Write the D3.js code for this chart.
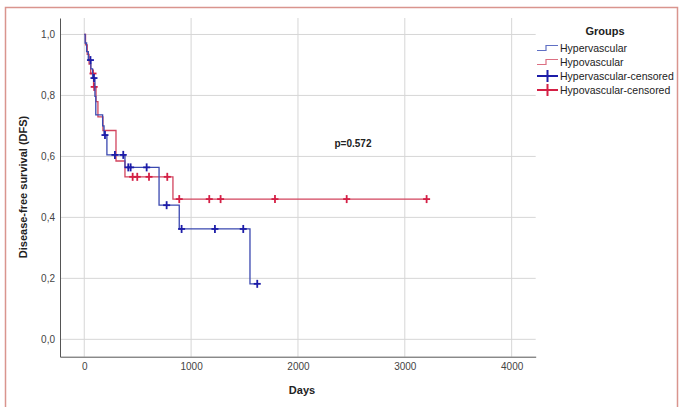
<!DOCTYPE html>
<html>
<head>
<meta charset="utf-8">
<script src="https://cdn.jsdelivr.net/npm/d3@7"></script>
<style>
  html, body { margin: 0; padding: 0; background: #fff; }
  svg { display: block; font-family: "Liberation Sans", Arial, sans-serif; }
</style>
</head>
<body>
<div id="chart"></div>
<script>
  // Kaplan-Meier step data (days, survival)
  const hyperTimes = [0, 8, 22, 38, 62, 78, 100, 108, 172, 185, 212, 381, 700, 889, 1551];
  const hyperSurv = [1.0, 0.972, 0.944, 0.916, 0.887, 0.857, 0.797, 0.736, 0.7, 0.67, 0.605, 0.564, 0.44, 0.362, 0.182];
  const hyperCensored = [58, 91, 194, 287, 365, 412, 434, 584, 771, 911, 1223, 1488, 1619];

  const hypoTimes = [0, 12, 28, 45, 60, 87, 110, 128, 175, 297, 381, 830];
  const hypoSurv = [1.0, 0.966, 0.935, 0.903, 0.872, 0.828, 0.78, 0.73, 0.685, 0.585, 0.533, 0.46];
  const hypoCensored = [82, 93, 453, 496, 606, 777, 889, 1170, 1276, 1785, 2456, 3204];

  const xTicks = [0, 1000, 2000, 3000, 4000];
  const yTicks = [0, 0.2, 0.4, 0.6, 0.8, 1.0];
  const groupNames = ["Hypervascular", "Hypovascular", "Hypervascular-censored", "Hypovascular-censored"];
  const pLabel = "p=0.572";

  const W = 679, H = 407;
  const blueLine = "#3a48b0", redLine = "#d2445e";
  const blueMark = "#1c1ca8", redMark = "#d41f45";

  const x = d3.scaleLinear().domain([-227, 4225]).range([60, 535.7]);
  const y = d3.scaleLinear().domain([-0.057, 1.054]).range([356.7, 18]);

  const svg = d3.select("#chart").append("svg").attr("width", W).attr("height", H);

  // outer frame
  svg.append("path")
    .attr("d", `M5.5,${H + 2} V7.5 H677.5 V${H + 2}`)
    .attr("fill", "none").attr("stroke", "#d9958e").attr("stroke-width", 1.5);

  // gridlines
  svg.append("g").selectAll("line.vg").data(xTicks).join("line")
    .attr("x1", d => x(d)).attr("x2", d => x(d))
    .attr("y1", y.range()[1]).attr("y2", y.range()[0])
    .attr("stroke", "#d6d6d6");
  svg.append("g").selectAll("line.hg").data(yTicks).join("line")
    .attr("y1", d => y(d)).attr("y2", d => y(d))
    .attr("x1", x.range()[0]).attr("x2", x.range()[1])
    .attr("stroke", "#d6d6d6");

  // axes
  const xAxis = svg.append("g")
    .attr("transform", `translate(0,${y.range()[0]})`)
    .call(d3.axisBottom(x).tickValues(xTicks).tickSize(0).tickPadding(6).tickFormat(d3.format("d")));
  const yAxis = svg.append("g")
    .attr("transform", `translate(${x.range()[0]},0)`)
    .call(d3.axisLeft(y).tickValues(yTicks).tickSize(0).tickPadding(5)
      .tickFormat(d => d3.format(".1f")(d).replace(".", ",")));
  [xAxis, yAxis].forEach(a => {
    a.select(".domain").attr("stroke", "#555");
    a.selectAll("text").attr("fill", "#444").style("font-size", "10px").style("font-family", "Liberation Sans, Arial, sans-serif");
  });

  // axis titles
  svg.append("text")
    .attr("x", 302).attr("y", 394)
    .attr("text-anchor", "middle")
    .style("font-size", "11px").style("font-weight", "bold").attr("fill", "#222")
    .text("Days");
  svg.append("text")
    .attr("transform", "translate(27,187) rotate(-90)")
    .attr("text-anchor", "middle")
    .style("font-size", "11px").style("font-weight", "bold").attr("fill", "#222")
    .text("Disease-free survival (DFS)");

  svg.append("text")
    .attr("x", 353).attr("y", 146.5)
    .attr("text-anchor", "middle")
    .style("font-size", "10px").style("font-weight", "bold").attr("fill", "#222")
    .text(pLabel);

  // curves
  const stepLine = d3.line().x(d => x(d[0])).y(d => y(d[1])).curve(d3.curveStepAfter);

  function drawGroup(times, surv, censored, lineColor, markColor) {
    const end = Math.max(times[times.length - 1], d3.max(censored));
    const pts = times.map((t, i) => [t, surv[i]]);
    pts.push([end, surv[surv.length - 1]]);
    svg.append("path")
      .attr("d", stepLine(pts))
      .attr("fill", "none").attr("stroke", lineColor).attr("stroke-width", 1.3);

    const marks = censored.map(c => [c, surv[d3.bisectRight(times, c) - 1]]);
    const g = svg.append("g").attr("stroke", markColor).attr("stroke-width", 1.8);
    g.selectAll("line.h").data(marks).join("line")
      .attr("x1", d => x(d[0]) - 3.5).attr("x2", d => x(d[0]) + 3.5)
      .attr("y1", d => y(d[1])).attr("y2", d => y(d[1]));
    g.selectAll("line.v").data(marks).join("line")
      .attr("x1", d => x(d[0])).attr("x2", d => x(d[0]))
      .attr("y1", d => y(d[1]) - 4).attr("y2", d => y(d[1]) + 4);
  }

  drawGroup(hypoTimes, hypoSurv, hypoCensored, redLine, redMark);
  drawGroup(hyperTimes, hyperSurv, hyperCensored, blueLine, blueMark);

  // legend
  const legend = svg.append("g");
  legend.append("text")
    .attr("x", 605).attr("y", 35)
    .attr("text-anchor", "middle")
    .style("font-size", "11px").style("font-weight", "bold").attr("fill", "#222")
    .text("Groups");

  const legendColors = [
    { c: "#6070c4", censor: false },
    { c: "#dc6f82", censor: false },
    { c: blueMark, censor: true },
    { c: redMark, censor: true }
  ];
  groupNames.forEach((name, i) => {
    const ly = 48 + i * 14;
    const item = legend.append("g");
    if (!legendColors[i].censor) {
      item.append("path")
        .attr("d", `M537,${ly + 2.5} H546 V${ly - 2.5} H558`)
        .attr("fill", "none").attr("stroke", legendColors[i].c).attr("stroke-width", 1.2);
    } else {
      item.append("path")
        .attr("d", `M537,${ly} H558 M547.5,${ly - 6} V${ly + 6}`)
        .attr("fill", "none").attr("stroke", legendColors[i].c).attr("stroke-width", 2);
    }
    item.append("text")
      .attr("x", 560).attr("y", ly + 4)
      .style("font-size", "10.5px").attr("fill", "#222")
      .text(name);
  });
</script>
</body>
</html>
